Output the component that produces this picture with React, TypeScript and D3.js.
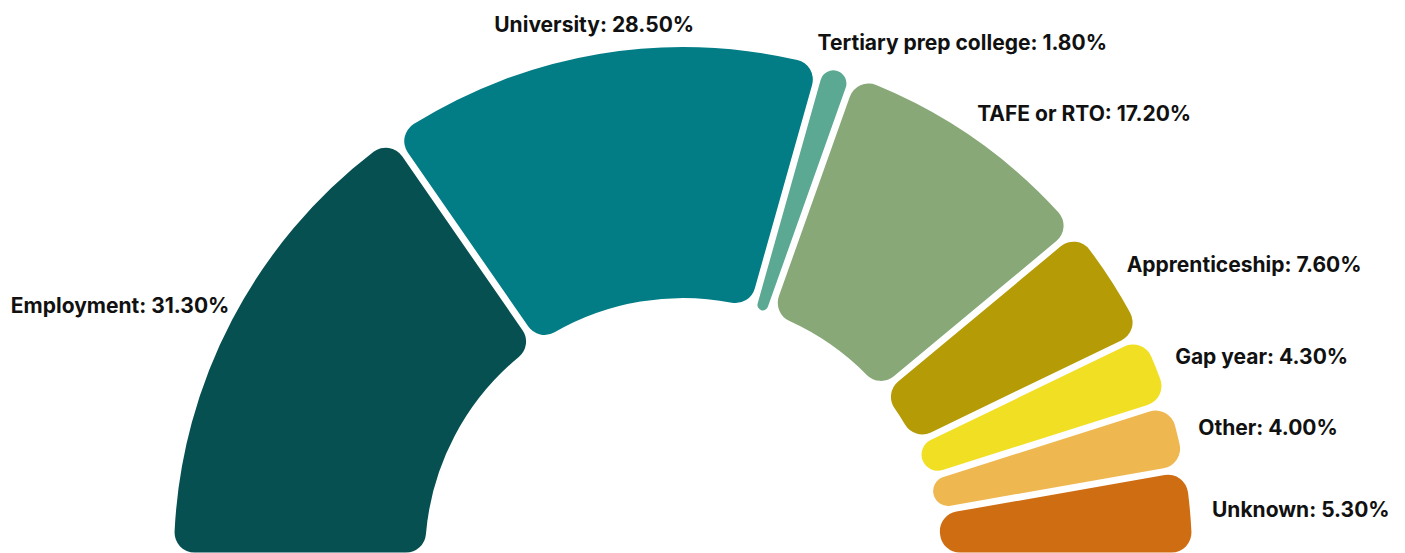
import React from 'react';
import * as d3 from 'd3';

const categories = ['Employment', 'University', 'Tertiary prep college', 'TAFE or RTO', 'Apprenticeship', 'Gap year', 'Other', 'Unknown'];
const shares = [31.3, 28.5, 1.8, 17.2, 7.6, 4.3, 4.0, 5.3];
const colours = ['#075052', '#027D86', '#5BA893', '#88A878', '#B59B06', '#F1DF24', '#EFB74F', '#CF6D12'];

const W = 1405;
const H = 553;
const cx = 683;
const cy = 556;
const rIn = 258;
const rOut = 509;
// label height comes from the mid angle, horizontal spot from a ring a bit outside the arcs
const labelDist = 539;
const ringRight = 531;
const ringLeft = 518;

export default function App() {
  const data = categories.map((name, i) => ({ name, value: shares[i], colour: colours[i] }));

  const pie = d3.pie<any>()
    .value(d => d.value)
    .sort(null)
    .startAngle(-Math.PI / 2)
    .endAngle(Math.PI / 2)
    .padAngle(0.012);

  const arc = d3.arc<any>()
    .innerRadius(rIn)
    .outerRadius(rOut)
    .cornerRadius(20);

  const slices = pie(data);

  return (
    <svg width={W} height={H} style={{ position: 'absolute', left: 0, top: 0, background: '#fff' }}>
      <g transform={`translate(${cx},${cy})`}>
        {slices.map((s, i) => (
          <path key={i} d={arc(s) as string} fill={s.data.colour} />
        ))}
        {slices.map((s, i) => {
          const mid = (s.startAngle + s.endAngle) / 2;
          const y = -Math.cos(mid) * labelDist;
          let x = Math.sin(mid) * labelDist;
          let anchor = 'middle';
          if (Math.abs(Math.sin(mid)) > 0.2) {
            const ring = x > 0 ? ringRight : ringLeft;
            x = Math.sign(x) * Math.sqrt(Math.max(0, ring * ring - y * y));
            anchor = x > 0 ? 'start' : 'end';
          }
          return (
            <text key={'t' + i} x={x} y={y + 7.5} textAnchor={anchor}
              fontFamily="Inter, 'Liberation Sans', sans-serif" fontWeight={700} fontSize={21} fill="#111">
              {`${s.data.name}: ${s.data.value.toFixed(2)}%`}
            </text>
          );
        })}
      </g>
    </svg>
  );
}
